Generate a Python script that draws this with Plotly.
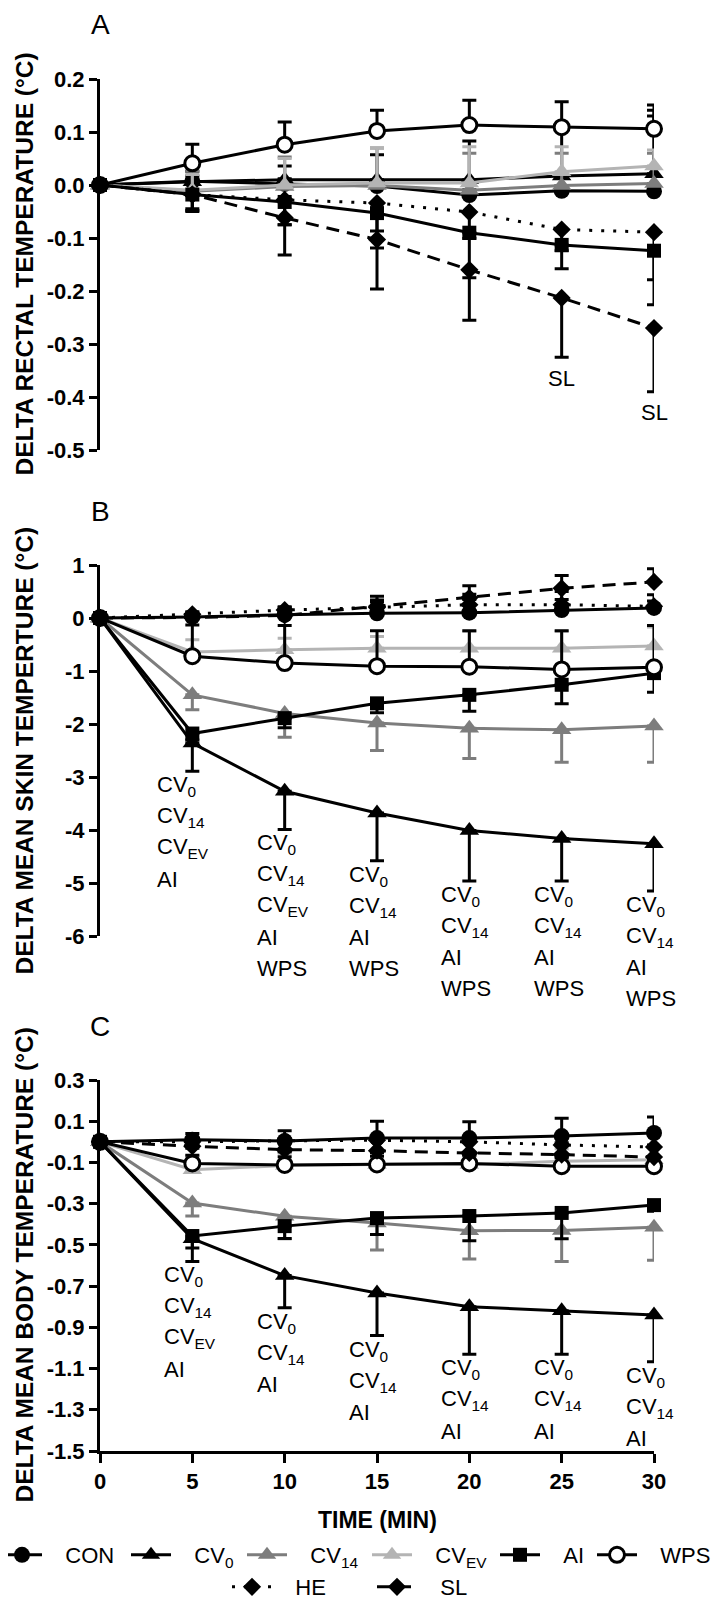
import plotly.graph_objects as go

# ---------------- data ----------------
TIME = [0, 5, 10, 15, 20, 25, 30]
X_TICKS = [0, 5, 10, 15, 20, 25, 30]
X_TICK_TEXT = ["0", "5", "10", "15", "20", "25", "30"]

GROUPS = ["CON", "CV0", "CV14", "CVEV", "AI", "WPS", "HE", "SL"]
LEGEND_NAMES = ["CON", "CV<sub>0</sub>", "CV<sub>14</sub>", "CV<sub>EV</sub>", "AI", "WPS", "HE", "SL"]

# Panel A: delta rectal temperature
A_CON = [0, 0.007, 0.002, -0.002, -0.019, -0.011, -0.012]
A_CV0 = [0, 0.006, 0.010, 0.010, 0.010, 0.017, 0.021]
A_CV14 = [0, -0.012, -0.003, -0.001, -0.010, -0.001, 0.003]
A_CVEV = [0, -0.010, 0.000, 0.004, 0.004, 0.025, 0.036]
A_AI = [0, -0.018, -0.032, -0.053, -0.090, -0.113, -0.124]
A_WPS = [0, 0.041, 0.076, 0.102, 0.113, 0.109, 0.106]
A_HE = [0, -0.018, -0.028, -0.034, -0.051, -0.084, -0.089]
A_SL = [0, -0.018, -0.062, -0.103, -0.160, -0.213, -0.270]
# error bars (one-sided): up or down
A_CON_ERR = [0, 0.010, 0.010, 0.010, 0.010, 0.010, 0.142]
A_CV0_ERR = [0, 0.020, 0.026, 0.047, 0.073, 0.090, 0.120]
A_CV14_ERR = [0, 0.038, 0.056, 0.071, 0.070, 0.061, 0.057]
A_CVEV_ERR = [0, 0.030, 0.050, 0.066, 0.068, 0.047, 0.030]
A_AI_ERR = [0, 0.027, 0.043, 0.034, 0.085, 0.045, 0.102]
A_WPS_ERR = [0, 0.036, 0.043, 0.039, 0.047, 0.048, 0.045]
A_HE_ERR = [0, 0.032, 0.047, 0.085, 0.050, 0.040, 0.090]
A_SL_ERR = [0, 0.030, 0.070, 0.093, 0.095, 0.112, 0.120]

# Panel B: delta mean skin temperature
B_CON = [0, 0.02, 0.06, 0.09, 0.10, 0.15, 0.19]
B_CV0 = [0, -2.36, -3.27, -3.68, -4.01, -4.16, -4.26]
B_CV14 = [0, -1.45, -1.80, -1.98, -2.08, -2.11, -2.04]
B_CVEV = [0, -0.64, -0.60, -0.57, -0.57, -0.57, -0.53]
B_AI = [0, -2.18, -1.89, -1.61, -1.45, -1.26, -1.04]
B_WPS = [0, -0.72, -0.85, -0.91, -0.92, -0.97, -0.93]
B_HE = [0, 0.07, 0.15, 0.20, 0.25, 0.25, 0.22]
B_SL = [0, 0.01, 0.05, 0.22, 0.38, 0.56, 0.68]
B_CON_ERR = [0, 0.10, 0.15, 0.25, 0.35, 0.35, 0.25]
B_CV0_ERR = [0, 0.53, 0.72, 0.90, 0.95, 0.80, 0.89]
B_CV14_ERR = [0, 0.28, 0.45, 0.52, 0.57, 0.61, 0.68]
B_CVEV_ERR = [0, 0.23, 0.22, 0.22, 0.32, 0.32, 0.36]
B_AI_ERR = [0, 0.12, 0.18, 0.18, 0.31, 0.36, 0.36]
B_WPS_ERR = [0, 0.59, 0.71, 0.67, 0.68, 0.73, 0.79]
B_HE_ERR = [0, 0.03, 0.05, 0.10, 0.10, 0.10, 0.10]
B_SL_ERR = [0, 0.05, 0.10, 0.19, 0.23, 0.24, 0.25]

# Panel C: delta mean body temperature
C_CON = [0, 0.010, 0.004, 0.018, 0.018, 0.028, 0.043]
C_CV0 = [0, -0.470, -0.649, -0.733, -0.800, -0.820, -0.840]
C_CV14 = [0, -0.297, -0.361, -0.394, -0.431, -0.430, -0.415]
C_CVEV = [0, -0.135, -0.115, -0.110, -0.110, -0.094, -0.087]
C_AI = [0, -0.457, -0.409, -0.370, -0.360, -0.345, -0.307]
C_WPS = [0, -0.105, -0.112, -0.110, -0.105, -0.118, -0.118]
C_HE = [0, 0.000, 0.005, 0.008, 0.000, -0.015, -0.025]
C_SL = [0, -0.021, -0.038, -0.043, -0.054, -0.062, -0.074]
C_CON_ERR = [0, 0.030, 0.050, 0.082, 0.080, 0.087, 0.077]
C_CV0_ERR = [0, 0.110, 0.156, 0.207, 0.230, 0.210, 0.227]
C_CV14_ERR = [0, 0.063, 0.109, 0.131, 0.137, 0.150, 0.160]
C_CVEV_ERR = [0, 0.065, 0.060, 0.060, 0.060, 0.060, 0.060]
C_AI_ERR = [0, 0.058, 0.060, 0.080, 0.120, 0.125, 0.030]
C_WPS_ERR = [0, 0.040, 0.040, 0.040, 0.040, 0.040, 0.040]
C_HE_ERR = [0, 0.010, 0.010, 0.010, 0.010, 0.010, 0.010]
C_SL_ERR = [0, 0.010, 0.010, 0.010, 0.010, 0.010, 0.010]

# direction of each group's error bar: +1 up, -1 down
A_ERR_DIR = [1, 1, 1, 1, -1, 1, -1, -1]
B_ERR_DIR = [1, -1, -1, 1, -1, 1, 1, 1]
C_ERR_DIR = [1, -1, -1, 1, -1, 1, 1, -1]

# y ticks
A_TICKS = [0.2, 0.1, 0.0, -0.1, -0.2, -0.3, -0.4, -0.5]
A_TICK_TEXT = ["0.2", "0.1", "0.0", "-0.1", "-0.2", "-0.3", "-0.4", "-0.5"]
B_TICKS = [1, 0, -1, -2, -3, -4, -5, -6]
B_TICK_TEXT = ["1", "0", "-1", "-2", "-3", "-4", "-5", "-6"]
C_TICKS = [0.3, 0.1, -0.1, -0.3, -0.5, -0.7, -0.9, -1.1, -1.3, -1.5]
C_TICK_TEXT = ["0.3", "0.1", "-0.1", "-0.3", "-0.5", "-0.7", "-0.9", "-1.1", "-1.3", "-1.5"]

Y_TITLES = ["DELTA RECTAL TEMPERATURE (°C)", "DELTA MEAN SKIN TEMPERTURE (°C)",
            "DELTA MEAN BODY TEMPERATURE (°C)"]
PANEL_LABELS = ["A", "B", "C"]
X_TITLE = "TIME (MIN)"

# significance notes: (time, list of lines) anchored below the CV0 / SL error bars
A_NOTES = [(25, ["SL"]), (30, ["SL"])]
B_NOTES = [(5, ["CV<sub>0</sub>", "CV<sub>14</sub>", "CV<sub>EV</sub>", "AI"]),
           (10, ["CV<sub>0</sub>", "CV<sub>14</sub>", "CV<sub>EV</sub>", "AI", "WPS"]),
           (15, ["CV<sub>0</sub>", "CV<sub>14</sub>", "AI", "WPS"]),
           (20, ["CV<sub>0</sub>", "CV<sub>14</sub>", "AI", "WPS"]),
           (25, ["CV<sub>0</sub>", "CV<sub>14</sub>", "AI", "WPS"]),
           (30, ["CV<sub>0</sub>", "CV<sub>14</sub>", "AI", "WPS"])]
C_NOTES = [(5, ["CV<sub>0</sub>", "CV<sub>14</sub>", "CV<sub>EV</sub>", "AI"]),
           (10, ["CV<sub>0</sub>", "CV<sub>14</sub>", "AI"]),
           (15, ["CV<sub>0</sub>", "CV<sub>14</sub>", "AI"]),
           (20, ["CV<sub>0</sub>", "CV<sub>14</sub>", "AI"]),
           (25, ["CV<sub>0</sub>", "CV<sub>14</sub>", "AI"]),
           (30, ["CV<sub>0</sub>", "CV<sub>14</sub>", "AI"])]

# ---------------- styles ----------------
W, H = 726, 1600
FONT = "Liberation Sans, Arial, Helvetica, sans-serif"
BLACK = "#000000"
DGRAY = "#7d7d7d"
LGRAY = "#b4b4b4"
STYLE = {
    "CON": dict(color=BLACK, symbol="circle", size=16, dash="solid", fill=BLACK),
    "CV0": dict(color=BLACK, symbol="triangle-up", size=17, dash="solid", fill=BLACK),
    "CV14": dict(color=DGRAY, symbol="triangle-up", size=17, dash="solid", fill=DGRAY),
    "CVEV": dict(color=LGRAY, symbol="triangle-up", size=17, dash="solid", fill=LGRAY),
    "AI": dict(color=BLACK, symbol="square", size=14, dash="solid", fill=BLACK),
    "WPS": dict(color=BLACK, symbol="circle", size=15, dash="solid", fill="#ffffff"),
    "HE": dict(color=BLACK, symbol="diamond", size=14, dash="3px,9px", fill=BLACK),
    "SL": dict(color=BLACK, symbol="diamond", size=14, dash="13px,8px", fill=BLACK),
}
# legend placement: x of the start of the legend line (px), centre y (px) or None = bottom
LEGEND_POS = {"CON": (8, 1547), "CV0": (137, 1547), "CV14": (253, 1547), "CVEV": (378, 1547),
              "AI": (506, 1547), "WPS": (603, 1547), "HE": (238, None), "SL": (383, None)}
LEGEND_OFFSET = 19
NBSP = "\u00a0"

X_LEFT, X_RIGHT = 92, 646
PANEL_PX = [(71, 442), (557, 928), (1072, 1443)]


def ydom(top, bot):
    return [1 - bot / H, 1 - top / H]


fig = go.Figure()

panels = [
    ([A_CON, A_CV0, A_CV14, A_CVEV, A_AI, A_WPS, A_HE, A_SL],
     [A_CON_ERR, A_CV0_ERR, A_CV14_ERR, A_CVEV_ERR, A_AI_ERR, A_WPS_ERR, A_HE_ERR, A_SL_ERR],
     A_ERR_DIR),
    ([B_CON, B_CV0, B_CV14, B_CVEV, B_AI, B_WPS, B_HE, B_SL],
     [B_CON_ERR, B_CV0_ERR, B_CV14_ERR, B_CVEV_ERR, B_AI_ERR, B_WPS_ERR, B_HE_ERR, B_SL_ERR],
     B_ERR_DIR),
    ([C_CON, C_CV0, C_CV14, C_CVEV, C_AI, C_WPS, C_HE, C_SL],
     [C_CON_ERR, C_CV0_ERR, C_CV14_ERR, C_CVEV_ERR, C_AI_ERR, C_WPS_ERR, C_HE_ERR, C_SL_ERR],
     C_ERR_DIR),
]

for p, (series, errs, dirs) in enumerate(panels):
    xa = "x" if p == 0 else f"x{p + 1}"
    ya = "y" if p == 0 else f"y{p + 1}"
    for g, name in enumerate(GROUPS):
        st = STYLE[name]
        up = errs[g] if dirs[g] > 0 else [0] * len(errs[g])
        dn = errs[g] if dirs[g] < 0 else [0] * len(errs[g])
        fig.add_trace(go.Scatter(
            x=TIME, y=series[g], xaxis=xa, yaxis=ya,
            mode="lines+markers", name=NBSP * 3 + LEGEND_NAMES[g],
            legend="legend" if g == 0 else f"legend{g + 1}",
            showlegend=(p == 0), cliponaxis=False,
            line=dict(color=st["color"], width=3, dash=st["dash"]),
            marker=dict(symbol=st["symbol"], size=st["size"], color=st["fill"],
                        line=dict(color=st["color"], width=3 if name == "WPS" else 0)),
            error_y=dict(type="data", symmetric=False, array=up, arrayminus=dn,
                         color=st["color"], thickness=3, width=7),
        ))

axis_common = dict(range=[0, 30], domain=[X_LEFT / W, X_RIGHT / W], fixedrange=True)
tickfont = dict(family=FONT, size=22, color=BLACK, weight="bold")
layout = dict(
    width=W, height=H, margin=dict(l=0, r=0, t=0, b=0, autoexpand=False),
    paper_bgcolor="white", plot_bgcolor="white", showlegend=True,
    xaxis=dict(**axis_common, visible=False, anchor="y"),
    xaxis2=dict(**axis_common, visible=False, anchor="y2"),
    xaxis3=dict(**axis_common, anchor="y3", showline=True, linecolor=BLACK, linewidth=3,
                ticks="outside", ticklen=9, tickwidth=3, tickcolor=BLACK,
                tickvals=X_TICKS, ticktext=X_TICK_TEXT, tickfont=tickfont,
                showgrid=False, zeroline=False),
)
y_ticks = [(A_TICKS, A_TICK_TEXT, [-0.5, 0.2]), (B_TICKS, B_TICK_TEXT, [-6, 1]),
           (C_TICKS, C_TICK_TEXT, [-1.5, 0.3])]
for p, (tv, tt, rng) in enumerate(y_ticks):
    key = "yaxis" if p == 0 else f"yaxis{p + 1}"
    layout[key] = dict(range=rng, domain=ydom(*PANEL_PX[p]),
                       anchor="x" if p == 0 else f"x{p + 1}",
                       showline=True, linecolor=BLACK, linewidth=3,
                       ticks="outside", ticklen=8, tickwidth=3, tickcolor=BLACK,
                       tickvals=tv, ticktext=tt, tickfont=tickfont,
                       showgrid=False, zeroline=False, fixedrange=True)

for g, name in enumerate(GROUPS):
    key = "legend" if g == 0 else f"legend{g + 1}"
    lx, ly = LEGEND_POS[name]
    if ly is None:
        ypos, yanc = 0.0, "bottom"
    else:
        ypos, yanc = 1 - ly / H, "middle"
    layout[key] = dict(x=(lx - LEGEND_OFFSET) / W, y=ypos, xanchor="left", yanchor=yanc,
                       bgcolor="rgba(0,0,0,0)", borderwidth=0, itemwidth=40,
                       font=dict(family=FONT, size=22, color=BLACK))
fig.update_layout(**layout)

ann = []
# panel letters and y titles
for p in range(3):
    top, bot = PANEL_PX[p]
    ann.append(dict(xref="paper", yref="paper", x=92 / W, y=1 - (top - 54) / H,
                    text=PANEL_LABELS[p], showarrow=False, xanchor="center", yanchor="middle",
                    font=dict(family=FONT, size=28, color=BLACK)))
    ann.append(dict(xref="paper", yref="paper", x=16 / W, y=1 - (top + bot) / 2 / H,
                    text=Y_TITLES[p], textangle=-90, showarrow=False,
                    xanchor="center", yanchor="middle",
                    font=dict(family=FONT, size=24.5, color=BLACK, weight="bold")))
ann.append(dict(xref="paper", yref="paper", x=(X_LEFT + X_RIGHT) / 2 / W, y=1 - 1512 / H,
                text=X_TITLE, showarrow=False, xanchor="center", yanchor="middle",
                font=dict(family=FONT, size=23, color=BLACK, weight="bold")))

# significance notes
note_sets = [(A_NOTES, A_SL, A_SL_ERR, "x", "y", True),
             (B_NOTES, B_CV0, B_CV0_ERR, "x2", "y2", False),
             (C_NOTES, C_CV0, C_CV0_ERR, "x3", "y3", False)]
for ns, (notes, ser, err, xr, yr, centred) in enumerate(note_sets):
    for t, lines in notes:
        i = TIME.index(t)
        base = ser[i] - err[i]
        xs = 0 if centred else (-37 if (ns == 1 and t == 5) else -30)
        for k, txt in enumerate(lines):
            ann.append(dict(xref=xr, yref=yr, x=t, y=base, text=txt, showarrow=False,
                            xanchor="center" if centred else "left", yanchor="middle",
                            xshift=xs, yshift=(-21 if centred else -15) - 31 * k,
                            font=dict(family=FONT, size=22, color=BLACK)))
fig.update_layout(annotations=ann)

fig.write_html("out.html")
